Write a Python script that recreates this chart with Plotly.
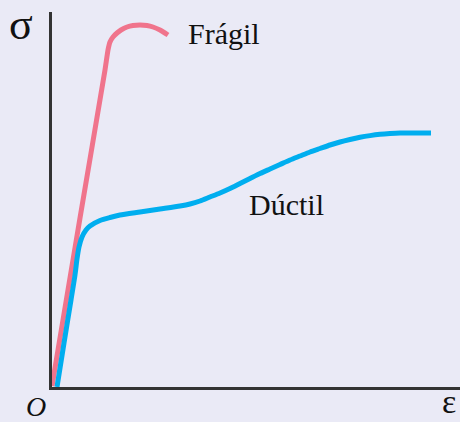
import plotly.graph_objects as go

# Strain (x) and stress (y) values (arbitrary units, origin at O)
fragil_strain = [0, 28, 53, 56, 58, 61, 65, 69, 75, 81, 88, 95, 101, 108, 116]
fragil_stress = [1, 169, 317, 337, 345, 350, 354, 357, 360, 361.5, 362, 361.5, 360, 357, 352]

ductil_strain = [5, 12, 19, 23, 25, 27, 30, 34, 38, 48, 58, 68, 88, 108, 128, 138, 148, 158, 168,
                 178, 188, 198, 208, 218, 228, 238, 248, 258, 268, 278, 288, 298, 308, 318, 328,
                 338, 348, 379]
ductil_stress = [0, 44, 87, 112, 128, 140, 150, 157, 161, 166.5, 169.5, 172, 175, 178, 181, 183, 186,
                 190, 194, 198.5, 203.5, 208.5, 213.5, 218, 222.5, 227, 231, 235, 238.5, 242, 245,
                 247.5, 249.7, 251.4, 252.7, 253.5, 254, 254]

labels = {"fragil": "Frágil", "ductil": "Dúctil", "stress": "σ", "strain": "ε", "origin": "O"}

BG = "#EAEAF6"
W, H = 460, 422
L, R, T, B = 52, 0, 12, 35
fig = go.Figure()
fig.add_trace(go.Scatter(x=fragil_strain, y=fragil_stress, mode="lines",
                         line=dict(color="#F0748C", width=5, shape="spline", smoothing=0.4),
                         cliponaxis=False, hoverinfo="skip"))
fig.add_trace(go.Scatter(x=ductil_strain, y=ductil_stress, mode="lines",
                         line=dict(color="#00AEEF", width=5, shape="spline", smoothing=0.6),
                         cliponaxis=False, hoverinfo="skip"))

serif = "Liberation Serif, Times New Roman, serif"
pw, ph = W - L - R, H - T - B


def px2paper(px, py):
    return (px - L) / pw, (H - B - py) / ph


ann = [
    (186, 34, labels["fragil"], "left", 30),
    (247, 204, labels["ductil"], "left", 30),
    (21, 24, labels["stress"], "center", 44),
    (449, 401, labels["strain"], "center", 34),
    (36, 407, "<i>" + labels["origin"] + "</i>", "center", 28),
]
for px, py, txt, xa, sz in ann:
    xp, yp = px2paper(px, py)
    fig.add_annotation(showarrow=False, xref="paper", yref="paper", x=xp, y=yp, text=txt,
                       xanchor=xa, yanchor="middle",
                       font=dict(family=serif, size=sz, color="#111"))

fig.update_layout(
    width=W, height=H,
    margin=dict(l=L, r=R, t=T, b=B),
    paper_bgcolor=BG, plot_bgcolor=BG,
    showlegend=False,
    xaxis=dict(range=[0, 408], showline=True, linecolor="#333", linewidth=2.5,
               showgrid=False, zeroline=False, showticklabels=False, ticks="", fixedrange=True),
    yaxis=dict(range=[0, 375], showline=True, linecolor="#333", linewidth=2.5,
               showgrid=False, zeroline=False, showticklabels=False, ticks="", fixedrange=True),
)
fig.write_html("out.html", config={"displayModeBar": False},
               post_script="document.body.style.margin='0';document.body.style.overflow='hidden';")
